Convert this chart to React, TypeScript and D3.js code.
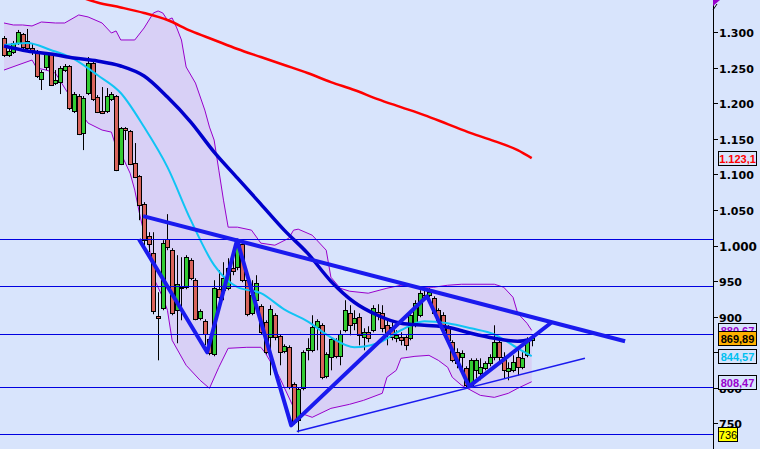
import React, { useEffect, useRef } from 'react'
import * as d3 from 'd3'

// ---- candle data ----
const opens = [1292.0, 1268.1, 1272.3, 1285.0, 1297.6, 1287.8, 1277.9, 1270.9, 1234.3, 1251.2,
    1269.5, 1228.6, 1230.0, 1246.9, 1252.6, 1189.2, 1210.3, 1158.2, 1214.6, 1256.8,
    1208.9, 1189.2, 1189.2, 1206.1, 1210.3, 1114.6, 1165.3, 1161.1, 1116.0, 1097.7,
    1058.3, 1013.2, 989.3, 900.6, 911.8, 1009.0, 993.5, 909.0, 941.4, 941.4,
    979.4, 951.3, 897.8, 893.5, 868.2, 847.1, 938.6, 937.2, 940.0, 968.2,
    969.6, 1002.0, 951.3, 904.8, 923.1, 914.6, 892.1, 871.0, 902.0, 872.4,
    851.3, 856.9, 804.8, 754.1, 799.2, 852.7, 852.7, 885.1, 887.9, 816.1,
    842.8, 866.8, 844.3, 880.9, 904.8, 890.7, 899.2, 871.0, 878.0, 880.9,
    906.2, 904.8, 887.9, 885.1, 869.6, 871.0, 871.0, 869.6, 887.9, 902.0,
    930.1, 930.1, 925.9, 909.0, 902.0, 885.1, 864.0, 849.9, 842.8, 827.4,
    803.4, 824.5, 820.3, 827.4, 834.4, 842.8, 864.0, 842.8, 823.1, 824.5,
    842.8, 828.8, 845.7, 866.8]
const closes = [1268.1, 1273.7, 1285.0, 1300.4, 1279.3, 1277.9, 1275.1, 1238.5, 1244.1, 1269.5,
    1225.8, 1232.9, 1249.8, 1252.6, 1193.4, 1213.1, 1156.8, 1207.5, 1256.8, 1206.1,
    1187.8, 1186.4, 1210.3, 1213.1, 1106.1, 1165.3, 1162.5, 1114.6, 1096.3, 1056.9,
    1007.6, 1002.0, 907.6, 897.8, 1003.4, 997.7, 904.8, 945.6, 940.0, 983.6,
    954.1, 896.3, 907.6, 875.2, 848.5, 940.0, 927.3, 954.1, 968.2, 963.9,
    1003.4, 951.3, 903.4, 930.1, 947.0, 878.0, 849.9, 910.4, 871.0, 849.9,
    858.3, 800.6, 751.3, 797.8, 849.9, 855.5, 885.1, 893.5, 814.7, 847.1,
    868.2, 844.3, 875.2, 909.0, 887.9, 897.8, 873.8, 878.0, 869.6, 911.8,
    902.0, 883.7, 876.6, 871.0, 873.8, 866.8, 859.7, 902.0, 918.9, 933.0,
    925.9, 934.4, 904.8, 894.9, 880.9, 866.8, 838.6, 834.4, 848.5, 803.4,
    838.6, 838.6, 828.8, 834.4, 842.8, 864.0, 842.8, 824.5, 827.4, 835.8,
    828.8, 841.4, 866.8, 869.9]
const highs = [1294.8, 1277.9, 1287.8, 1303.3, 1299.0, 1304.7, 1283.5, 1275.1, 1246.9, 1272.3,
    1270.9, 1246.9, 1252.6, 1255.4, 1254.0, 1216.0, 1213.1, 1210.3, 1265.2, 1258.2,
    1211.7, 1223.0, 1221.6, 1216.0, 1211.7, 1166.7, 1166.7, 1162.5, 1144.2, 1099.1,
    1061.1, 1018.8, 1018.8, 934.4, 1007.6, 1044.2, 996.3, 986.5, 983.6, 986.5,
    982.2, 954.1, 910.4, 896.3, 871.0, 951.3, 965.3, 976.6, 982.2, 982.2,
    1007.6, 1004.8, 954.1, 951.3, 958.3, 917.5, 894.9, 916.1, 904.8, 875.2,
    861.1, 859.7, 807.6, 800.6, 852.7, 869.6, 902.0, 896.3, 890.7, 849.9,
    871.0, 869.6, 880.9, 923.1, 916.1, 909.0, 904.8, 883.7, 886.5, 916.1,
    917.5, 916.1, 897.8, 892.1, 880.9, 878.0, 873.8, 906.2, 923.1, 937.2,
    937.2, 940.0, 928.7, 911.8, 906.2, 887.9, 866.8, 855.5, 852.7, 830.2,
    841.4, 841.4, 841.4, 837.2, 847.1, 887.9, 866.8, 849.9, 835.8, 845.7,
    852.7, 849.9, 871.0, 873.8]
const lows = [1265.2, 1265.2, 1269.5, 1282.1, 1276.5, 1275.1, 1268.1, 1235.7, 1218.8, 1246.9,
    1224.4, 1225.8, 1213.1, 1244.1, 1190.6, 1186.4, 1155.4, 1134.3, 1211.7, 1203.3,
    1186.4, 1185.0, 1186.4, 1203.3, 1104.7, 1113.2, 1148.4, 1113.2, 1094.9, 1035.7,
    993.5, 990.7, 903.4, 838.6, 909.0, 993.5, 902.0, 862.6, 894.9, 938.6,
    951.3, 894.9, 894.9, 859.7, 845.7, 844.3, 923.1, 923.1, 937.2, 958.3,
    965.3, 948.4, 900.6, 902.0, 920.3, 875.2, 847.1, 817.5, 866.8, 831.6,
    848.5, 797.8, 748.5, 737.2, 796.4, 838.6, 849.9, 852.7, 811.9, 813.3,
    824.5, 841.4, 831.6, 878.0, 873.8, 880.9, 859.7, 852.7, 864.0, 878.0,
    894.9, 878.0, 859.7, 866.8, 864.0, 859.7, 852.7, 866.8, 885.1, 899.2,
    923.1, 927.3, 902.0, 892.1, 873.8, 859.7, 835.8, 827.4, 824.5, 800.6,
    802.0, 813.3, 810.5, 824.5, 830.2, 838.6, 835.8, 813.3, 810.5, 821.7,
    817.5, 826.0, 842.8, 858.3]

// ---- moving averages, sampled every 5 bars ----
const maIdx = [0, 5, 10, 15, 20, 25, 30, 35, 40, 45, 50, 55, 60, 65, 70, 75, 80, 85, 90, 95, 100, 105, 110, 113]
const ma200 = [1383.5, 1372.3, 1362.4, 1352.5, 1342, 1335, 1327.2, 1317.3, 1301.9, 1289.2, 1276.5, 1265.2,
    1254, 1242.7, 1230, 1218.8, 1206.1, 1194.8, 1183.6, 1170.9, 1158.2, 1147, 1134.3, 1123.1]
const ma50 = [1280.7, 1273.7, 1269.5, 1263.8, 1259.6, 1252.6, 1238.5, 1208.9, 1173.7, 1131.5, 1094.9, 1058.3,
    1021.7, 989.3, 949.9, 920.3, 902, 890.7, 887.9, 885.1, 876.6, 869.6, 865.4, 868.2]
const ma20 = [1282.1, 1285, 1275.1, 1262.4, 1239.9, 1214.6, 1166.7, 1110.4, 1035.7, 972.4, 941.4, 933,
    910.4, 893.5, 871, 856.9, 862.6, 880.9, 893.5, 890.7, 883.7, 875.2, 855.5, 844.6]

// ---- bollinger bands ----
const bbUpperIdx = [0, 2, 4, 6, 8, 11, 13, 16, 18, 21, 23, 24, 25, 28, 30, 32, 33, 34, 35, 36, 37, 38, 39, 41,
    43, 44, 45, 46, 47, 48, 50, 53, 55, 58, 61, 62, 63, 66, 69, 70, 72, 74, 78, 82, 85, 89, 92, 95, 98,
    105, 107, 109, 110, 112, 113]
const bbUpper = [1313.1, 1310.3, 1310.3, 1308.9, 1314.5, 1313.1, 1313.1, 1324.4, 1321.6, 1313.1, 1299,
    1301.9, 1289.2, 1289.2, 1306.1, 1327.2, 1330, 1327.2, 1317.3, 1320.2, 1306.1, 1289.2, 1251.2, 1228.6,
    1190.6, 1166.7, 1148.4, 1106.1, 1063.9, 1025.9, 1025.9, 1021.7, 1003.4, 1000.5, 1010.4, 1021.7, 1023.1,
    1014.6, 993.5, 955.5, 940, 935.8, 933, 940, 944.2, 941.4, 941.4, 944.2, 945.6, 945.6, 941.4, 927.3,
    904.8, 890.7, 880.67]
const bbLowerIdx = [0, 3, 6, 7, 9, 11, 13, 16, 18, 21, 23, 24, 25, 27, 28, 29, 30, 31, 32, 34, 35, 36, 39, 42,
    44, 46, 48, 52, 55, 56, 59, 62, 63, 66, 70, 74, 77, 81, 82, 84, 85, 88, 91, 93, 95, 96, 98, 100, 102,
    105, 108, 110, 113]
const bbLower = [1246.9, 1254, 1261, 1249.8, 1246.9, 1242.7, 1221.6, 1190.6, 1172.3, 1162.5, 1159.6, 1138.5,
    1130.1, 1101.9, 1078, 1045.6, 1017, 1003, 955, 927.3, 909, 866.8, 831.6, 810.5, 799.2, 828.8, 855.5,
    856.9, 856.9, 848.5, 814.7, 772.4, 765.4, 758.4, 771, 776.7, 782.3, 792.2, 814.7, 824.5, 841.4, 844.2,
    845.6, 838.6, 828.8, 814.7, 803.4, 796.4, 789.3, 786.5, 792.2, 799.2, 808.47]

// ---- drawn objects ----
const levels = [1008.6, 942.8, 876.2, 801, 735.4]
const zigzagIdx = [28.9, 43.5, 49.9, 61.5, 90.6, 99.6, 117.3]
const zigzag = [1009, 849.9, 1007.6, 747.1, 928.7, 802, 892.1]
const resistIdx = [29.8, 133]
const resist = [1041.4, 865.4]
const supportIdx = [62.7, 124.4]
const support = [738.6, 841.4]

// ---- axis ----
const yTicks = [1300, 1250, 1200, 1150, 1100, 1050, 1000, 950, 900, 850, 800, 750]
const yTickLabels = ['1.300', '1.250', '1.200', '1.150', '1.100', '1.050', '1.000', '950', '900', '850', '800', '750']
const tagValues = [1123.1, 880.67, 869.89, 844.57, 808.47, 735.4]
const tagLabels = ['1.123,1', '880,67', '869,89', '844,57', '808,47', '736']
const tagColors = ['#ff0000', '#9900cc', '#000000', '#00c0f0', '#9900cc', '#000000']
const tagFills = ['#d8e4fc', '#d8e4fc', '#ffb000', '#d8e4fc', '#d8e4fc', '#ffff00']

const BG = '#d8e4fc'

export default function App() {
    const ref = useRef<SVGSVGElement>(null)

    useEffect(() => {
        const svg = d3.select(ref.current)
        svg.selectAll('*').remove()
        const width = 760, height = 449
        const axisX = 713

        const x = d3.scaleLinear().domain([0, 113]).range([4, 531.7])
        const y = d3.scaleLinear().domain([750, 1300]).range([423.3, 32.3])

        svg.append('rect').attr('width', width).attr('height', height).attr('fill', BG)

        const plot = svg.append('g')

        // bollinger fill + lines
        const up = bbUpperIdx.map((d, i) => [x(d), y(bbUpper[i])] as [number, number])
        const lo = bbLowerIdx.map((d, i) => [x(d), y(bbLower[i])] as [number, number])
        const line = d3.line()
        plot.append('path')
            .attr('d', line(up) + 'L' + (line(lo.slice().reverse()) as string).slice(1) + 'Z')
            .attr('fill', '#d8d0f6')
        plot.append('path').attr('d', line(up)).attr('fill', 'none').attr('stroke', '#9900cc').attr('stroke-width', 1)
        plot.append('path').attr('d', line(lo)).attr('fill', 'none').attr('stroke', '#9900cc').attr('stroke-width', 1)

        // candles
        const candles = plot.append('g')
        opens.forEach((o, i) => {
            const c = closes[i]
            const cx = Math.round(x(i))
            candles.append('line')
                .attr('x1', cx + 0.5).attr('x2', cx + 0.5)
                .attr('y1', y(highs[i])).attr('y2', y(lows[i]))
                .attr('stroke', '#000').attr('stroke-width', 1)
            const top = Math.round(y(Math.max(o, c)))
            const bot = Math.round(y(Math.min(o, c)))
            candles.append('rect')
                .attr('x', cx - 1.5).attr('y', top + 0.5)
                .attr('width', 4).attr('height', Math.max(1, bot - top))
                .attr('fill', c >= o ? '#33cc33' : '#d9645c')
                .attr('stroke', '#000').attr('stroke-width', 1)
        })

        // moving averages
        const ma = d3.line<number>().x((d, i) => x(maIdx[i])).y(d => y(d)).curve(d3.curveMonotoneX)
        plot.append('path').attr('d', ma(ma20)).attr('fill', 'none').attr('stroke', '#10c4f4').attr('stroke-width', 2)
        plot.append('path').attr('d', ma(ma50)).attr('fill', 'none').attr('stroke', '#0000cc').attr('stroke-width', 3.5)
        plot.append('path').attr('d', ma(ma200)).attr('fill', 'none').attr('stroke', '#ff0000').attr('stroke-width', 2.5)

        // horizontal levels
        plot.selectAll('.level').data(levels).enter().append('line')
            .attr('class', 'level')
            .attr('x1', 0).attr('x2', axisX)
            .attr('y1', d => Math.round(y(d)) + 0.5).attr('y2', d => Math.round(y(d)) + 0.5)
            .attr('stroke', '#0000e0').attr('stroke-width', 1)

        // trend lines
        const tl = (idx: number[], vals: number[]) => d3.line()(idx.map((d, i) => [x(d), y(vals[i])] as [number, number]))
        plot.append('path').attr('d', tl(supportIdx, support)).attr('fill', 'none').attr('stroke', '#1a1aee').attr('stroke-width', 1.5)
        plot.append('path').attr('d', tl(resistIdx, resist)).attr('fill', 'none').attr('stroke', '#1a1aee').attr('stroke-width', 4)
        plot.append('path').attr('d', tl(zigzagIdx, zigzag)).attr('fill', 'none').attr('stroke', '#1a1aee')
            .attr('stroke-width', 4).attr('stroke-linejoin', 'round')

        // right axis
        svg.append('rect').attr('x', axisX).attr('y', 0).attr('width', width - axisX).attr('height', height).attr('fill', BG)
        svg.append('line').attr('x1', axisX + 0.5).attr('x2', axisX + 0.5).attr('y1', 0).attr('y2', height)
            .attr('stroke', '#000').attr('stroke-width', 1)
        const ax = svg.append('g')
        yTicks.forEach((t, i) => {
            const ty = Math.round(y(t)) + 0.5
            ax.append('line').attr('x1', axisX).attr('x2', axisX + 5).attr('y1', ty).attr('y2', ty)
                .attr('stroke', '#000').attr('stroke-width', 1)
            ax.append('text')
                .attr('x', axisX + 6).attr('y', ty + 4)
                .attr('font-family', 'DejaVu Sans, sans-serif')
                .attr('font-weight', 'bold')
                .attr('font-size', t === 1000 ? '12px' : '11px')
                .attr('fill', '#000')
                .text(yTickLabels[i])
        })

        // value tags (drawn over the tick labels, as on the chart)
        tagValues.forEach((v, i) => {
            const top = Math.round(y(v)) - 7
            const w = i === 5 ? 19 : 38
            ax.append('rect').attr('x', 718.5).attr('y', top + 0.5).attr('width', w).attr('height', 14)
                .attr('fill', tagFills[i]).attr('stroke', '#000').attr('stroke-width', 1)
            ax.append('text')
                .attr('x', 718.5 + w / 2).attr('y', top + 11.5)
                .attr('text-anchor', 'middle')
                .attr('font-family', 'Liberation Sans, Arial, sans-serif')
                .attr('font-weight', i === 5 ? 'normal' : 'bold')
                .attr('font-size', '11px')
                .attr('fill', tagColors[i])
                .text(tagLabels[i])
        })

        // marker at top of axis
        svg.append('path').attr('d', 'M713,0L720,0L713,6Z').attr('fill', '#9900cc')
        svg.append('line').attr('x1', 713).attr('y1', 10).attr('x2', 717).attr('y2', 4).attr('stroke', '#000')
    }, [])

    return (
        <svg ref={ref} width={760} height={449}
            style={{ position: 'fixed', left: 0, top: 0, display: 'block' }} />
    )
}
